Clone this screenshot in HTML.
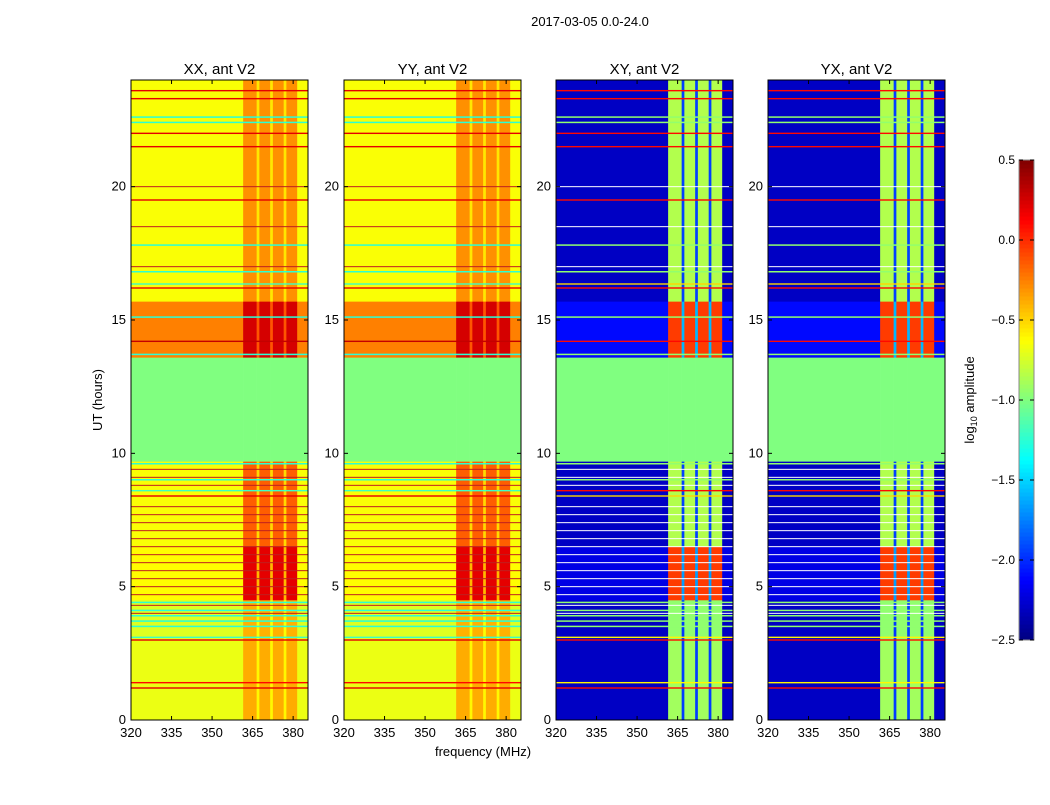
<!DOCTYPE html>
<html><head><meta charset="utf-8"><style>
body{margin:0;background:#fff;font-family:"Liberation Sans",sans-serif;}
svg text{font-family:"Liberation Sans",sans-serif;}
</style></head><body>
<svg id="fig" width="1050" height="800" xmlns="http://www.w3.org/2000/svg">
<rect width="1050" height="800" fill="#fff"/>
<text x="590" y="26" font-size="13" text-anchor="middle">2017-03-05 0.0-24.0</text>
<text transform="translate(102,400) rotate(-90)" font-size="13" text-anchor="middle">UT (hours)</text>
<text x="483" y="756" font-size="13" text-anchor="middle">frequency (MHz)</text>
<text transform="translate(974,400) rotate(-90)" font-size="13" text-anchor="middle">log<tspan font-size="9" dy="3">10</tspan><tspan dy="-3"> amplitude</tspan></text>
</svg>
<script>
// ---- data ----
const panelTitles = ["XX, ant V2","YY, ant V2","XY, ant V2","YX, ant V2"];
const panelKinds = ["par","par","cross","cross"];
const segStart = [0, 3, 4.5, 6.5, 9.7, 13.6, 15.7];
const segEnd   = [3, 4.5, 6.5, 9.7, 13.6, 15.7, 24];
const segBasePar   = [-0.68,-0.72,-0.62,-0.64,-1.0,-0.25,-0.64];
const segActivePar = [-0.38,-0.4,0.2,-0.15,-1.0,0.25,-0.3];
const segBaseCross   = [-2.3,-2.3,-2.2,-2.3,-1.0,-2.1,-2.3];
const segActiveCross = [-0.9,-0.95,-0.05,-0.85,-1.0,-0.05,-0.85];
const freqEdges = [320,361.5,366.5,367.5,371.5,372.5,376.5,377.5,381.5,386];
const freqActive = [0,1,0.25,1,0.25,1,0.25,1,0];
const lineHours = [1.2,1.4,3.0,3.1,8.4,8.6,14.2,16.2,16.35,19.5,21.5,22.0,23.3,23.6];
const lineValsPar = [0.2,0.1,0.2,-1.2,0.2,-1.2,0.3,0.2,-1.2,0.2,0.2,0.2,0.2,0.2];
const lineValsCross = [0.1,-0.6,0.1,-0.6,-0.5,0.1,0.1,0.1,-0.5,0.1,0.1,0.1,0.1,0.1];
const gapHours = [4.0,4.3,4.7,5.0,5.3,5.6,5.9,6.2,6.5,6.8,7.1,7.4,7.7,8.0,8.8,9.1,9.4,17.0,18.5,20.0];
const cyanHours = [3.5,3.7,3.9,4.1,4.4,9.0,9.6,13.7,15.1,16.8,17.8,22.4,22.6];
const cbTicks = [0.5,0.0,-0.5,-1.0,-1.5,-2.0,-2.5];
const xTicks = [320,335,350,365,380];
const yTicks = [0,5,10,15,20];
// ---- layout ----
const NS="http://www.w3.org/2000/svg";
const svg=document.getElementById('fig');
const panelX=[131,344,556,768], PW=177, PT=80, PB=720;
const fmin=320,fmax=385.5,tmin=0,tmax=24,vmin=-2.5,vmax=0.5;
function jet(v){let x=(v-vmin)/(vmax-vmin);x=Math.max(0,Math.min(1,x));
 const c=t=>Math.round(255*Math.max(0,Math.min(1,1.5-Math.abs(4*x-t))));
 return `rgb(${c(3)},${c(2)},${c(1)})`;}
function mk(tag,attrs,parent){const e=document.createElementNS(NS,tag);for(const k in attrs)e.setAttribute(k,attrs[k]);(parent||svg).appendChild(e);return e;}
panelKinds.forEach((kind,p)=>{
 const x0=panelX[p];
 const xs=f=>x0+(Math.min(f,fmax)-fmin)/(fmax-fmin)*PW;
 const ys=t=>PB-(t-tmin)/(tmax-tmin)*(PB-PT);
 const g=mk('g',{});
 
 
 const base=kind==='par'?segBasePar:segBaseCross, act=kind==='par'?segActivePar:segActiveCross;
 segStart.forEach((s,i)=>{
  for(let j=0;j<freqActive.length;j++){
   const v=base[i]+(act[i]-base[i])*freqActive[j];
   const r=mk('rect',{x:xs(freqEdges[j]),y:ys(segEnd[i]),width:xs(freqEdges[j+1])-xs(freqEdges[j])+0.3,height:ys(segStart[i])-ys(segEnd[i])+0.3,fill:jet(v)},g);
   
   
  }
 });
 cyanHours.forEach(h=>{const r=mk('rect',{x:x0,y:ys(h)-1,width:PW,height:1.5,fill:jet(kind==='par'?-1.25:-0.95)},g);
  });
 gapHours.forEach(h=>{const r=mk('rect',{x:x0,y:ys(h)-0.5,width:PW,height:1,fill:kind==='par'?'#c02020':'#fff'},g);
  });
 lineHours.forEach((h,i)=>{const r=mk('rect',{x:x0,y:ys(h)-0.7,width:PW,height:1.4,fill:jet(kind==='par'?lineValsPar[i]:lineValsCross[i])},g);
  });
 const fr=mk('rect',{x:x0,y:PT,width:PW,height:PB-PT,fill:'none',stroke:'#000','stroke-width':1});
 
 const t=mk('text',{x:x0+PW/2,y:74,'font-size':15,'text-anchor':'middle'});t.textContent=panelTitles[p];
 
 xTicks.forEach(f=>{const x=xs(f);
  mk('line',{x1:x,x2:x,y1:PB,y2:PB-4,stroke:'#000'});mk('line',{x1:x,x2:x,y1:PT,y2:PT+4,stroke:'#000'});
  const l=mk('text',{x:x,y:737,'font-size':13,'text-anchor':'middle'});l.textContent=f;
  });
 yTicks.forEach(h=>{const y=ys(h);
  mk('line',{x1:x0,x2:x0+4,y1:y,y2:y,stroke:'#000'});mk('line',{x1:x0+PW,x2:x0+PW-4,y1:y,y2:y,stroke:'#000'});
  const l=mk('text',{x:x0-5,y:y+4,'font-size':13,'text-anchor':'end'});l.textContent=h;
  });
});
// colorbar
const cbX=1019,cbW=15,cbT=160,cbB=640;
const cb=mk('g',{});


for(let i=0;i<120;i++){const v=vmin+(i+0.5)/120*(vmax-vmin);const y=cbB-(i+1)/120*(cbB-cbT);
 mk('rect',{x:cbX,y:y,width:cbW,height:(cbB-cbT)/120+0.5,fill:jet(v)},cb);}
mk('rect',{x:cbX,y:cbT,width:cbW,height:cbB-cbT,fill:'none',stroke:'#888'},cb);
cbTicks.forEach(v=>{const y=cbB-(v-vmin)/(vmax-vmin)*(cbB-cbT);
 mk('line',{x1:cbX,x2:cbX+4,y1:y,y2:y,stroke:'#000'},cb);
 mk('line',{x1:cbX+cbW,x2:cbX+cbW-4,y1:y,y2:y,stroke:'#000'},cb);
 const l=mk('text',{x:cbX-4,y:y+4,'font-size':12,'text-anchor':'end'},cb);l.textContent=(v<0?'\u2212':'')+Math.abs(v).toFixed(1);
 });
</script>
</body></html>
